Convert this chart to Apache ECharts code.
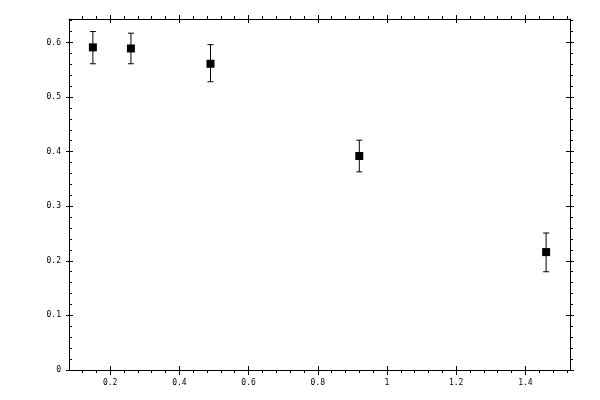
<!DOCTYPE html>
<html>
<head>
<meta charset="utf-8">
<script src="https://cdn.jsdelivr.net/npm/echarts@6/dist/echarts.min.js"></script>
<style>html,body{margin:0;padding:0;background:#fff}#c{width:600px;height:400px}</style>
</head>
<body>
<div id="c"></div>
<script>
var xVals  = [0.15, 0.26, 0.49, 0.92, 1.46];
var yVals  = [0.591, 0.589, 0.561, 0.392, 0.216];
var yLow   = [0.561, 0.561, 0.528, 0.363, 0.180];
var yHigh  = [0.620, 0.617, 0.596, 0.421, 0.251];
var xTicks = [0.2, 0.4, 0.6, 0.8, 1.0, 1.2, 1.4];
var xTickLabels = ['0.2', '0.4', '0.6', '0.8', '1', '1.2', '1.4'];
var yTicks = [0, 0.1, 0.2, 0.3, 0.4, 0.5, 0.6];
var yTickLabels = ['0', '0.1', '0.2', '0.3', '0.4', '0.5', '0.6'];
var xMinor = [0.12, 0.16, 0.24, 0.28, 0.32, 0.36, 0.44, 0.48, 0.52, 0.56, 0.64, 0.68, 0.72, 0.76,
              0.84, 0.88, 0.92, 0.96, 1.04, 1.08, 1.12, 1.16, 1.24, 1.28, 1.32, 1.36, 1.44, 1.48, 1.52];
var yMinor = [0.02, 0.04, 0.06, 0.08, 0.12, 0.14, 0.16, 0.18, 0.22, 0.24, 0.26, 0.28, 0.32, 0.34,
              0.36, 0.38, 0.42, 0.44, 0.46, 0.48, 0.52, 0.54, 0.56, 0.58, 0.62, 0.64];

var X_MIN = 0.081, X_MAX = 1.529, Y_MIN = 0, Y_MAX = 0.643;
var FONT = 'DejaVu Sans Mono';
var black = '#000';

var gridBox = {left: 69, top: 19, width: 501, height: 351};
var grids = [0, 1, 2].map(function () { return Object.assign({}, gridBox); });

function xAx(gi, pos, tickVals, inside, len, withLabel) {
  return {
    type: 'value', gridIndex: gi, position: pos, min: X_MIN, max: X_MAX,
    axisLine: {show: gi === 0, onZero: false, lineStyle: {color: black, width: 1}},
    axisTick: {show: true, inside: inside, length: len, customValues: tickVals, lineStyle: {color: black, width: 1}},
    axisLabel: withLabel ? {show: true, customValues: xTicks, margin: 9, color: black, fontFamily: FONT, fontSize: 8,
      formatter: function (v) { var i = xTicks.findIndex(function (t) { return Math.abs(t - v) < 1e-9; }); return i >= 0 ? xTickLabels[i] : ''; }} : {show: false},
    splitLine: {show: false}, minorTick: {show: false}
  };
}
function yAx(gi, pos, tickVals, inside, len, withLabel) {
  return {
    type: 'value', gridIndex: gi, position: pos, min: Y_MIN, max: Y_MAX,
    axisLine: {show: gi === 0, onZero: false, lineStyle: {color: black, width: 1}},
    axisTick: {show: true, inside: inside, length: len, customValues: tickVals, lineStyle: {color: black, width: 1}},
    axisLabel: withLabel ? {show: true, customValues: yTicks, margin: 8, color: black, fontFamily: FONT, fontSize: 8,
      formatter: function (v) { var i = yTicks.findIndex(function (t) { return Math.abs(t - v) < 1e-9; }); return i >= 0 ? yTickLabels[i] : ''; }} : {show: false},
    splitLine: {show: false}, minorTick: {show: false}
  };
}

var xAxes = [
  xAx(0, 'bottom', xTicks, false, 5, true),
  xAx(0, 'top', xTicks, false, 4, false),
  xAx(1, 'bottom', xTicks, true, 4, false),
  xAx(1, 'top', xTicks, true, 4, false),
  xAx(2, 'bottom', xMinor, false, 3, false),
  xAx(2, 'top', xMinor, false, 3, false)
];
var yAxes = [
  yAx(0, 'left', yTicks, false, 3, true),
  yAx(0, 'right', yTicks, false, 4, false),
  yAx(1, 'left', yTicks, true, 4, false),
  yAx(1, 'right', yTicks, true, 4, false),
  yAx(2, 'left', yMinor, true, 3, false),
  yAx(2, 'right', yMinor, false, 3, false)
];

var errData = xVals.map(function (x, i) { return [x, yLow[i], yHigh[i]]; });
var ptData = xVals.map(function (x, i) { return [x, yVals[i]]; });

var chart = echarts.init(document.getElementById('c'), null, {renderer: 'canvas'});
chart.setOption({
  animation: false,
  backgroundColor: '#fff',
  grid: grids,
  xAxis: xAxes,
  yAxis: yAxes,
  series: [
    {
      type: 'custom', xAxisIndex: 0, yAxisIndex: 0, data: errData, z: 2,
      renderItem: function (params, api) {
        var x = api.value(0), lo = api.value(1), hi = api.value(2);
        var pH = api.coord([x, hi]), pL = api.coord([x, lo]);
        var w = 3;
        var st = {stroke: black, lineWidth: 1};
        return {type: 'group', children: [
          {type: 'line', shape: {x1: pH[0], y1: pH[1], x2: pL[0], y2: pL[1]}, style: st},
          {type: 'line', shape: {x1: pH[0] - w, y1: pH[1], x2: pH[0] + w, y2: pH[1]}, style: st},
          {type: 'line', shape: {x1: pL[0] - w, y1: pL[1], x2: pL[0] + w, y2: pL[1]}, style: st}
        ]};
      }
    },
    {
      type: 'scatter', xAxisIndex: 0, yAxisIndex: 0, data: ptData, z: 3,
      symbol: 'rect', symbolSize: 8, itemStyle: {color: black, opacity: 1},
      emphasis: {disabled: true}
    }
  ]
});
</script>
</body>
</html>
